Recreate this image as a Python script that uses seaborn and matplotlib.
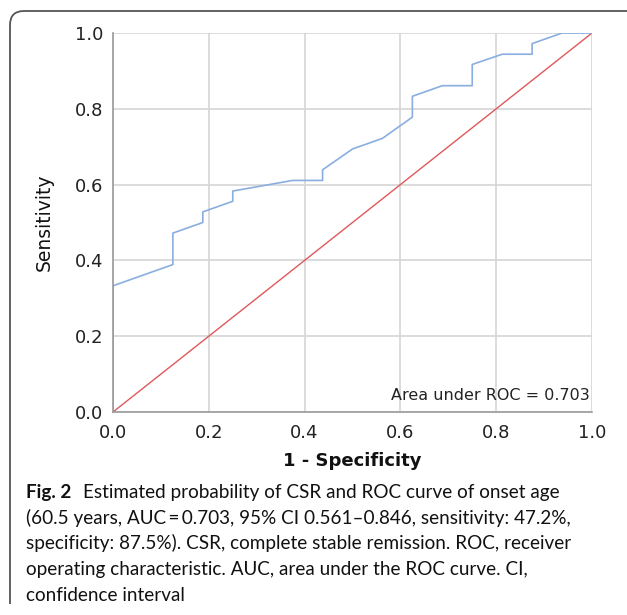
import matplotlib
matplotlib.use("Agg")
import matplotlib.pyplot as plt
from matplotlib.path import Path
from matplotlib.patches import PathPatch
import seaborn as sns
import pandas as pd

# ---- data ----
fpr = [0.0, 0.0, 0.125, 0.125, 0.1875, 0.1875, 0.25, 0.25, 0.375, 0.4375, 0.4375,
       0.5, 0.5625, 0.625, 0.625, 0.6875, 0.75, 0.75, 0.8125, 0.875, 0.875, 0.9375, 1.0]
tpr = [0.0, 0.333, 0.389, 0.472, 0.5, 0.528, 0.556, 0.583, 0.611, 0.611, 0.639,
       0.694, 0.722, 0.778, 0.833, 0.861, 0.861, 0.917, 0.944, 0.944, 0.972, 1.0, 1.0]
diag_x = [0.0, 1.0]
diag_y = [0.0, 1.0]
tick_vals = [0.0, 0.2, 0.4, 0.6, 0.8, 1.0]
tick_labels = ["0.0", "0.2", "0.4", "0.6", "0.8", "1.0"]
x_label = "1 - Specificity"
y_label = "Sensitivity"
auc_text = "Area under ROC = 0.703"
caption_bold = "Fig. 2"
caption_lines = [
    "Estimated probability of CSR and ROC curve of onset age",
    "(60.5 years, AUC\u2009=\u20090.703, 95% CI 0.561\u20130.846, sensitivity: 47.2%,",
    "specificity: 87.5%). CSR, complete stable remission. ROC, receiver",
    "operating characteristic. AUC, area under the ROC curve. CI,",
    "confidence interval",
]

sns.set_style("white")
plt.rcParams["font.family"] = ["DejaVu Sans"]

W, H = 627, 615
fig = plt.figure(figsize=(W / 100, H / 100), dpi=100)
ax = fig.add_axes([113 / W, 1 - 412 / H, 479 / W, 379 / H])

roc_df = pd.DataFrame({"fpr": fpr, "tpr": tpr})
diag_df = pd.DataFrame({"x": diag_x, "y": diag_y})
sns.lineplot(data=diag_df, x="x", y="y", ax=ax, color="#e0585a", lw=1.0,
             sort=False, estimator=None, zorder=3)
sns.lineplot(data=roc_df, x="fpr", y="tpr", ax=ax, color="#8aaee0", lw=1.2,
             sort=False, estimator=None, zorder=4)

ax.set_xlim(0, 1)
ax.set_ylim(0, 1)
ax.set_xticks(tick_vals)
ax.set_yticks(tick_vals)
ax.set_xticklabels(tick_labels)
ax.set_yticklabels(tick_labels)
ax.tick_params(axis="both", length=0, labelsize=13, labelcolor="#222222")
ax.tick_params(axis="x", pad=9)
ax.tick_params(axis="y", pad=7)
ax.grid(True, color="#d6d6d6", lw=1.2, zorder=0)
ax.set_axisbelow(True)
for s in ["top", "right"]:
    ax.spines[s].set_visible(False)
for s in ["left", "bottom"]:
    ax.spines[s].set_color("#9a9a9a")
    ax.spines[s].set_linewidth(1.2)
    ax.spines[s].set_zorder(5)

ax.set_xlabel(x_label, fontsize=13, fontweight="bold", color="#111111")
ax.xaxis.set_label_coords(0.5, (412 - 461) / 379)
ax.xaxis.label.set_va("center")
ax.set_ylabel(y_label, fontsize=13.5, color="#111111")
ax.yaxis.set_label_coords((44 - 113) / 479, 0.5)
ax.yaxis.label.set_va("center")

ax.text(0.995, (412 - 395) / 379, auc_text, transform=ax.transAxes,
        ha="right", va="center", fontsize=11.5, color="#222222")

# frame around figure (top-left rounded corner)
def px(x, y):
    return (x / W, 1 - y / H)

verts = [px(10, 604), px(10, 25), px(10, 11), px(24, 11), px(640, 11)]
codes = [Path.MOVETO, Path.LINETO, Path.CURVE3, Path.CURVE3, Path.LINETO]
frame = PathPatch(Path(verts, codes), transform=fig.transFigure, fill=False,
                  edgecolor="#555555", lw=1.3)
fig.patches.append(frame)

# caption
cap_font = ["Lato", "DejaVu Sans"]
fig.canvas.draw()
r = fig.canvas.get_renderer()
probe = fig.text(0, 0, caption_lines[2], fontsize=13, family=cap_font)
wpx = probe.get_window_extent(r).width
probe.remove()
cap_size = 13 * (541 / wpx)

x0 = 26
baselines = [498, 524, 549, 575, 601]
tb = fig.text(x0 / W, 1 - baselines[0] / H, caption_bold, fontsize=cap_size,
              fontweight="bold", family=cap_font, va="baseline", color="#111111")
fig.canvas.draw()
bw = tb.get_window_extent(r).width
fig.text((x0 + bw + 12) / W, 1 - baselines[0] / H, caption_lines[0], fontsize=cap_size,
         family=cap_font, va="baseline", color="#111111")
for line, b in zip(caption_lines[1:], baselines[1:]):
    fig.text(x0 / W, 1 - b / H, line, fontsize=cap_size, family=cap_font,
             va="baseline", color="#111111")

fig.savefig("out.png", dpi=100)
